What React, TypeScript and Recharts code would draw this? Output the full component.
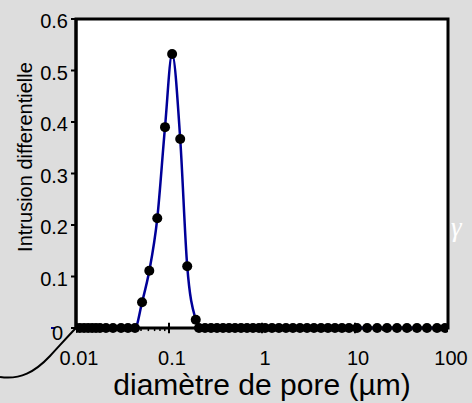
import React from 'react';
import { LineChart, Line, XAxis, YAxis, ReferenceArea, ReferenceLine, Label } from 'recharts';

// pore diameter (µm)
const diameters = [
    0.01, 0.011, 0.0122, 0.0135, 0.0149, 0.0164, 0.0181, 0.021, 0.025, 0.0305, 0.0362, 0.0431,
    0.0513, 0.0614, 0.0748, 0.0906, 0.108, 0.132, 0.157, 0.194,
    0.21, 0.244, 0.283, 0.328, 0.381, 0.442, 0.513, 0.595, 0.69, 0.8, 0.929,
    1.08, 1.28, 1.52, 1.81, 2.15, 2.56, 3.05, 3.62, 4.31, 5.12, 6.09, 7.24, 8.62,
    10.5, 13.5, 17.3, 22.1, 28.3, 36.2, 46.4, 59.4, 76.2, 92.9,
];

const intrusion = [
    0, 0, 0, 0, 0, 0, 0, 0, 0, 0, 0, 0,
    0.05, 0.111, 0.213, 0.39, 0.532, 0.367, 0.12, 0.016,
    0, 0, 0, 0, 0, 0, 0, 0, 0, 0, 0,
    0, 0, 0, 0, 0, 0, 0, 0, 0, 0, 0, 0, 0,
    0, 0, 0, 0, 0, 0, 0, 0, 0, 0,
];

const xTicks = [0.01, 0.1, 1, 10, 100];
const yTicks = [0, 0.1, 0.2, 0.3, 0.4, 0.5, 0.6];
const minorTicks = [
    0.02, 0.03, 0.04, 0.05, 0.06, 0.07, 0.08, 0.09,
    0.2, 0.3, 0.4, 0.5, 0.6, 0.7, 0.8, 0.9,
    2, 3, 4, 5, 6, 7, 8, 9,
    20, 30, 40, 50, 60, 70, 80, 90,
];

const data = diameters.map((d, i) => ({ d, v: intrusion[i] }));

const FONT = '"Liberation Sans", Arial, sans-serif';

const XTick = (props: any) => {
    const { x, y, payload } = props;
    return (
        <text x={x + 3} y={y + 37} textAnchor="middle" fontSize={20} fontFamily={FONT} fill="#000">
            {payload.value}
        </text>
    );
};

const YTick = (props: any) => {
    const { x, y, payload } = props;
    if (payload.value === 0) {
        return (
            <g>
                <line x1={51} x2={55} y1={y} y2={y} stroke="#000099" strokeWidth={2} />
                <text x={x - 5} y={y + 12} textAnchor="end" fontSize={20} fontFamily={FONT} fill="#000">0</text>
            </g>
        );
    }
    return (
        <text x={x} y={y + 9} textAnchor="end" fontSize={20} fontFamily={FONT} fill="#000">
            {payload.value}
        </text>
    );
};

const YTitle = () => (
    <text
        x={32}
        y={157}
        transform="rotate(-90, 32, 157)"
        textAnchor="middle"
        fontSize={20}
        fontFamily={FONT}
        fill="#000"
    >
        Intrusion differentielle
    </text>
);

const App: React.FC = () => {
    return (
        <div style={{ position: 'absolute', left: 0, top: 0, width: 472, height: 403, background: '#dddddd' }}>
            <LineChart width={472} height={403} data={data} margin={{ top: 19, right: 24, left: 0, bottom: 0 }}>
                <ReferenceArea x1={0.01} x2={100} y1={0} y2={0.6} fill="#ffffff" fillOpacity={1} stroke="#000" strokeWidth={3} />
                <XAxis
                    dataKey="d"
                    type="number"
                    scale="log"
                    domain={[0.01, 100]}
                    ticks={xTicks}
                    allowDataOverflow
                    axisLine={false}
                    tickLine={false}
                    tickSize={0}
                    tickMargin={0}
                    height={75}
                    tick={<XTick />}
                    label={{
                        value: 'diamètre de pore (µm)',
                        position: 'insideBottom',
                        offset: 8,
                        fontSize: 30,
                        fontFamily: FONT,
                        fill: '#000',
                    }}
                />
                <YAxis
                    type="number"
                    domain={[0, 0.6]}
                    ticks={yTicks}
                    width={76}
                    axisLine={{ stroke: '#000', strokeWidth: 3 }}
                    tickLine={{ stroke: '#000', strokeWidth: 2 }}
                    tickSize={5}
                    tickMargin={3}
                    tick={<YTick />}
                >
                    <Label content={<YTitle />} />
                </YAxis>
                {xTicks.slice(1, 4).map(t => (
                    <ReferenceLine key={t} segment={[{ x: t, y: -0.01 }, { x: t, y: 0.01 }]} stroke="#000" strokeWidth={2} ifOverflow="visible" />
                ))}
                {minorTicks.map(t => (
                    <ReferenceLine key={t} segment={[{ x: t, y: -0.006 }, { x: t, y: 0 }]} stroke="#000" strokeWidth={1.5} ifOverflow="visible" />
                ))}
                <Line
                    type="monotone"
                    dataKey="v"
                    stroke="#000099"
                    strokeWidth={2.5}
                    dot={{ r: 5, fill: '#000', stroke: '#000', strokeWidth: 0 }}
                    isAnimationActive={false}
                />
            </LineChart>
            <svg width={472} height={403} style={{ position: 'absolute', left: 0, top: 0, pointerEvents: 'none' }}>
                <path d="M0,377 C20,380 35,372 50,356 C62,343 70,334 76,328" fill="none" stroke="#000" strokeWidth={2} />
                <text x={451} y={236} fontSize={27} fontStyle="italic" fontFamily='"Liberation Serif", serif' fill="#ffffff">γ</text>
            </svg>
        </div>
    );
};

export default App;
